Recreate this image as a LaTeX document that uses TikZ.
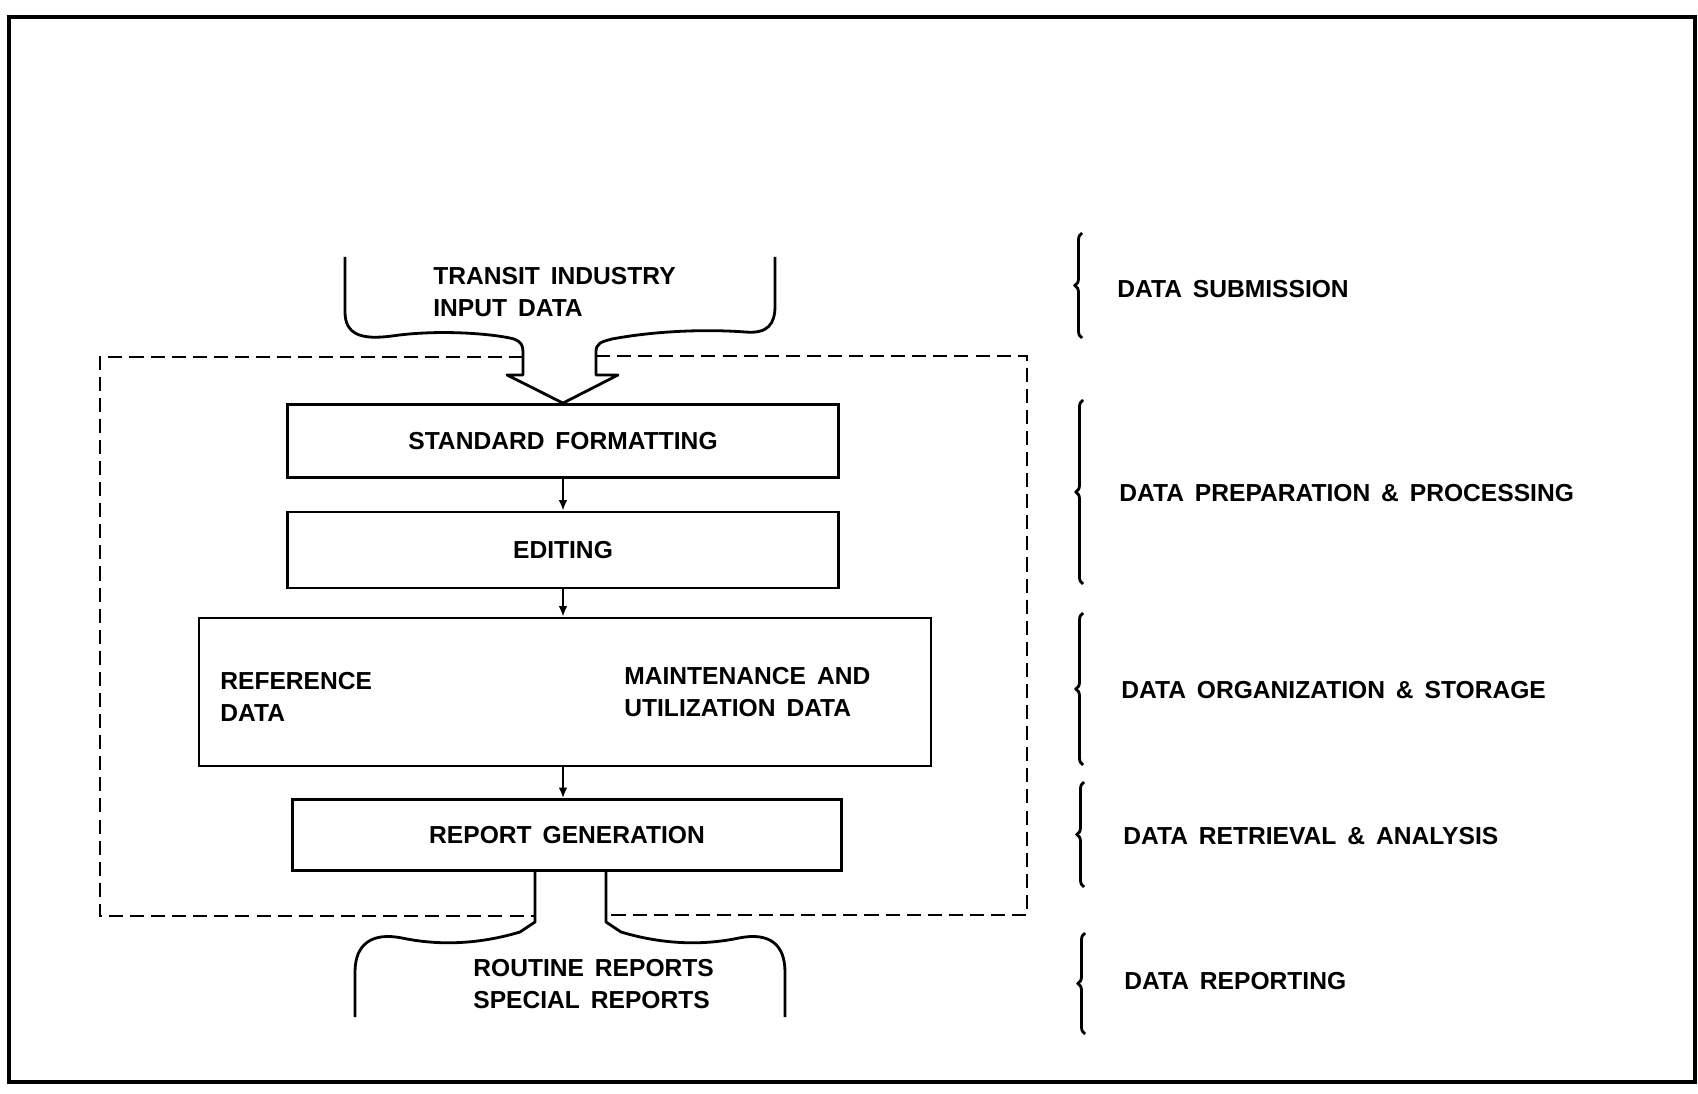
\documentclass[tikz,border=0pt]{standalone}
\usepackage{fontspec}
\setmainfont{Liberation Sans}
\usetikzlibrary{arrows.meta,decorations.pathreplacing}

\tikzset{
  box/.style={draw, line width=1.6pt, inner sep=0pt},
  lbl/.style={font=\fontsize{14}{18}\selectfont\bfseries, align=left, inner sep=0pt},
  phase/.style={lbl, anchor=west},
  funnel/.style={line width=1.6pt, line join=round},
  stage/.style={decorate, decoration={brace, amplitude=4pt}, line width=1.6pt},
  flow/.style={line width=1.1pt, ->},
  bound/.style={dashed, dash pattern=on 8pt off 4pt, line width=1.6pt},
}

\begin{document}
\begin{tikzpicture}[x=0.02cm, y=-0.02cm, >={Latex[length=6pt,width=5pt]}]
  \useasboundingbox (0,0) rectangle (1698,1094);
  \draw[line width=2.3pt] (9,17) rectangle (1695,1082);

  % processing steps
  \node[box, minimum width=11.02cm, minimum height=1.46cm] (fmt) at (563,441) {};
  \node[lbl] (fmttext) at (fmt) {STANDARD\, FORMATTING};
  \node[box, minimum width=11.02cm, minimum height=1.52cm] (edit) at (563,550) {};
  \node[lbl] (edittext) at (edit) {EDITING};
  \node[box, minimum width=14.64cm, minimum height=2.96cm] (store) at (565,692) {};
  \node[lbl, anchor=west] (refdata) at (220,697) {REFERENCE\\DATA};
  \node[lbl, anchor=west] (maintdata) at (624,692) {MAINTENANCE\, AND\\UTILIZATION\, DATA};
  \node[box, minimum width=10.98cm, minimum height=1.42cm] (report) at (567,835) {};
  \node[lbl] (reporttext) at (report) {REPORT\, GENERATION};

  \draw[flow] (fmt.south) -- (edit.north);
  \draw[flow] (edit.south) -- (edit.south |- store.north);
  \draw[flow] (edit.south |- store.south) -- (edit.south |- report.north);

  % input and output
  \node[lbl, anchor=west] (input) at (433,292) {TRANSIT\, INDUSTRY\\INPUT\, DATA};
  \node[lbl, anchor=west] (output) at (473,984) {ROUTINE\, REPORTS\\SPECIAL\, REPORTS};

  \draw[funnel] (345,257) -- (345,312) .. controls (345,335) and (362,340) .. (392,336)
    .. controls (440,329) and (495,334) .. (514,339) .. controls (521,342) and (523,345) .. (523,352)
    -- (523,375) -- (507,375) -- (fmt.north) -- (618,375) -- (596,375) -- (596,352)
    .. controls (596,344) and (600,342) .. (612,339) .. controls (655,331) and (705,329) .. (745,332)
    .. controls (768,334) and (775,324) .. (775,306) -- (775,257);

  \draw[funnel] (report.south -| 535,0) -- (535,922) -- (520,932)
    .. controls (480,944) and (440,946) .. (402,938) .. controls (372,932) and (355,944) .. (355,972)
    -- (355,1017);
  \draw[funnel] (report.south -| 606,0) -- (606,922) -- (621,932)
    .. controls (661,944) and (701,946) .. (739,938) .. controls (769,932) and (785,944) .. (785,972)
    -- (785,1017);

  % system boundary
  \draw[bound] (523,357) -- (100,357) -- (100,916) -- (535,916);
  \draw[bound] (596,356) -- (1027,356) -- (1027,915) -- (606,915);

  % phases
  \node[phase] (submit) at (1117,289) {DATA\, SUBMISSION};
  \node[phase] (prep) at (1119,493) {DATA\, PREPARATION\, \&\, PROCESSING};
  \node[phase] (organize) at (1121,690) {DATA\, ORGANIZATION\, \&\, STORAGE};
  \node[phase] (retrieve) at (1123,836) {DATA\, RETRIEVAL\, \&\, ANALYSIS};
  \node[phase] (reporting) at (1124,981) {DATA\, REPORTING};

  \draw[stage] (1082,338) -- (1082,233);
  \draw[stage] (1083,584) -- (1083,400);
  \draw[stage] (1083,765) -- (1083,613);
  \draw[stage] (1084,887) -- (1084,782);
  \draw[stage] (1085,1034) -- (1085,933);
\end{tikzpicture}
\end{document}
